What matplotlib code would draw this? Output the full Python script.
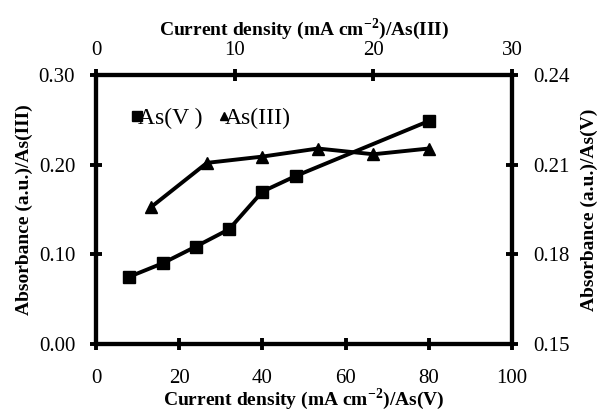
import matplotlib
matplotlib.use("Agg")
import matplotlib.pyplot as plt

plt.rcParams['font.family'] = ['Liberation Serif', 'DejaVu Serif']
plt.rcParams['mathtext.fontset'] = 'custom'
plt.rcParams['mathtext.rm'] = 'Liberation Serif:bold'
plt.rcParams['mathtext.bf'] = 'Liberation Serif:bold'

# As(V): bottom x axis (current density), right y axis (absorbance)
asv_x = [8, 16, 24, 32, 40, 48, 80]
asv_y = [0.1725, 0.177, 0.1826, 0.1884, 0.201, 0.2062, 0.2246]
# As(III): top x axis, left y axis
as3_x = [4, 8, 12, 16, 20, 24]
as3_y = [0.153, 0.202, 0.209, 0.218, 0.2116, 0.218]

left_ticks = [0.00, 0.10, 0.20, 0.30]
right_ticks = [0.15, 0.18, 0.21, 0.24]
bottom_ticks = [0, 20, 40, 60, 80, 100]
top_ticks = [0, 10, 20, 30]

fig = plt.figure(figsize=(6.03, 4.12), dpi=100)
pos = [96/603, 1-344/412, (512-96)/603, (344-75)/412]

axA = fig.add_axes(pos)  # As(III): top x, left y
axB = fig.add_axes(pos)  # As(V): bottom x, right y
axB.patch.set_visible(False)

lw = 2.8
mk = dict(color='black', linewidth=lw)
hA, = axA.plot(as3_x, as3_y, marker='^', markersize=8, label='As(III)', **mk)
hB, = axB.plot(asv_x, asv_y, marker='s', markersize=8.5, label='As(V )', **mk)

axA.set_xlim(0, 30)
axA.set_ylim(0, 0.30)
axA.xaxis.tick_top()
axA.xaxis.set_label_position('top')
axA.set_xticks(top_ticks)
axA.set_yticks(left_ticks)
axA.set_yticklabels([f"{v:.2f}" for v in left_ticks])

axB.set_xlim(0, 100)
axB.set_ylim(0.15, 0.24)
axB.yaxis.tick_right()
axB.yaxis.set_label_position('right')
axB.set_xticks(bottom_ticks)
axB.set_yticks(right_ticks)
axB.set_yticklabels([f"{v:.2f}" for v in right_ticks])

for ax in (axA, axB):
    for s in ax.spines.values():
        s.set_linewidth(3.0)
    ax.tick_params(direction='inout', length=8, width=2.8, labelsize=15)
    ax.tick_params(axis='y', pad=11)
axA.tick_params(axis='x', pad=7)
axB.tick_params(axis='x', pad=14)

lab = dict(fontsize=14, fontweight='bold')
axA.set_xlabel('Current density (mA cm$^{-2}$)/As(III)', labelpad=4, **lab)
axA.set_ylabel('Absorbance (a.u.)/As(III)', labelpad=4, **lab)
axB.set_xlabel('Current density (mA cm$^{-2}$)/As(V)', labelpad=-1, **lab)
axB.set_ylabel('Absorbance (a.u.)/As(V)', labelpad=8, **lab)

leg = axB.legend(handles=[hB, hA], ncol=2, frameon=False, loc='center left',
                 bbox_to_anchor=(0.075, 0.84), fontsize=17, handlelength=0.0,
                 handletextpad=0.05, columnspacing=0.9, borderaxespad=0,
                 markerscale=0.8)

fig.savefig('out.png', dpi=100)
